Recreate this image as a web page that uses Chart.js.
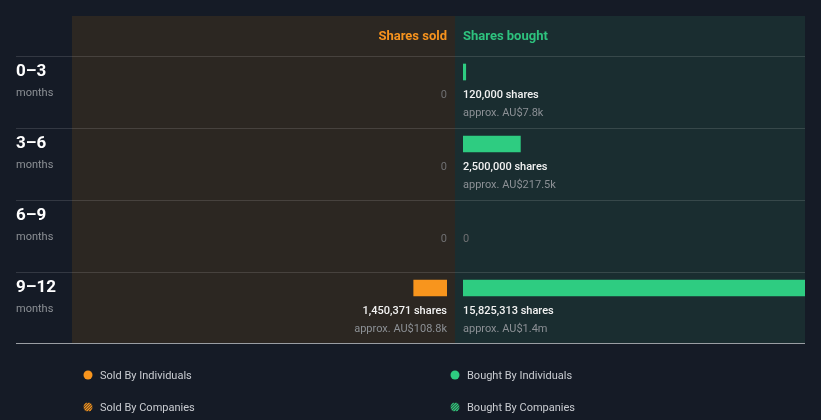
<!DOCTYPE html>
<html><head><meta charset="utf-8">
<script src="https://cdn.jsdelivr.net/npm/chart.js@4"></script>
<style>
html,body{margin:0;padding:0;background:#151b26;}
#wrap{position:relative;width:821px;height:420px;overflow:hidden;}
canvas{position:absolute;left:0;top:0;}
</style></head><body>
<div id="wrap"><canvas id="bought" width="821" height="420"></canvas><canvas id="sold" width="821" height="420"></canvas></div>
<script>
// ---- data ----
const periods = ['0–3', '3–6', '6–9', '9–12'];
const periodUnit = 'months';
const headerLabels = ['Shares sold', 'Shares bought'];
const sharesSold = [0, 0, 0, 1450371];
const sharesBought = [120000, 2500000, 0, 15825313];
const valueSold = [0, 0, 0, 108800];          // AU$
const valueBought = [7800, 217500, 0, 1400000]; // AU$
const currency = 'AU$';
const legendLabels = ['Sold By Individuals', 'Bought By Individuals', 'Sold By Companies', 'Bought By Companies'];
const boughtAxisMax = 14900000; // scale (largest bar is clipped at panel edge)

// ---- styles / layout ----
const C = {
  bg: '#151b26', soldPanel: '#2c2722', boughtPanel: '#1a2d30',
  orange: '#f8951d', green: '#2ecc81', headOrange: '#f7931e', headGreen: '#2ec27e',
  rowLine: 'rgba(255,255,255,0.13)', axisLine: '#9a9ea3',
  white: '#f2f2f2', grey: '#8c9095', zero: '#6f7072', legendText: '#c9ccd1'
};
const F = 'Roboto, "Noto Sans", sans-serif';
const L = { top: 16, head: 56, bottom: 343, left: 16, soldLeft: 72, mid: 455, right: 805, soldZero: 447, boughtZero: 463, rowH: 72 };

const fmtShares = v => v.toLocaleString('en-US') + ' shares';
const fmtValue = v => 'approx. ' + currency + (v >= 1e6 ? (v / 1e6).toFixed(1) + 'm' : (v / 1e3).toFixed(1) + 'k');

function drawHatch(ctx, x, y, r, col) {
  ctx.save();
  ctx.beginPath(); ctx.arc(x, y, r, 0, Math.PI * 2); ctx.clip();
  ctx.fillStyle = '#2a2a2a'; ctx.fillRect(x - r, y - r, 2 * r, 2 * r);
  ctx.strokeStyle = col; ctx.lineWidth = 1.3;
  for (let k = -3; k <= 3; k++) {
    ctx.beginPath();
    ctx.moveTo(x - r + k * 2.8, y + r);
    ctx.lineTo(x + r + k * 2.8, y - r);
    ctx.stroke();
  }
  ctx.restore();
}

const backdrop = {
  id: 'backdrop',
  beforeDraw(chart) {
    const ctx = chart.ctx;
    ctx.save();
    ctx.fillStyle = C.bg; ctx.fillRect(0, 0, chart.width, chart.height);
    ctx.fillStyle = C.soldPanel; ctx.fillRect(L.soldLeft, L.top, L.mid - L.soldLeft, L.bottom - L.top);
    ctx.fillStyle = C.boughtPanel; ctx.fillRect(L.mid, L.top, L.right - L.mid, L.bottom - L.top);
    ctx.font = 'bold 13px ' + F; ctx.textBaseline = 'alphabetic';
    ctx.fillStyle = C.headOrange; ctx.textAlign = 'right'; ctx.fillText(headerLabels[0], L.soldZero, 40);
    ctx.fillStyle = C.headGreen; ctx.textAlign = 'left'; ctx.fillText(headerLabels[1], L.boughtZero, 40);
    ctx.fillStyle = C.rowLine;
    periods.forEach((p, i) => ctx.fillRect(L.left, L.head + i * L.rowH, L.right - L.left, 1));
    ctx.fillStyle = C.axisLine; ctx.fillRect(L.left, L.bottom, L.right - L.left, 1);
    periods.forEach((p, i) => {
      const y0 = L.head + i * L.rowH;
      ctx.textAlign = 'left';
      ctx.fillStyle = '#ffffff'; ctx.font = 'bold 17px ' + F; ctx.fillText(p, L.left, y0 + 20);
      ctx.fillStyle = C.grey; ctx.font = '11px ' + F; ctx.fillText(periodUnit, L.left, y0 + 40);
    });
    const cols = [88, 455], rows = [376, 408], colors = [C.orange, C.green];
    ctx.font = '11px ' + F; ctx.textBaseline = 'middle'; ctx.textAlign = 'left';
    legendLabels.forEach((lab, i) => {
      const cx = cols[i % 2], cy = rows[Math.floor(i / 2)], col = colors[i % 2];
      if (i < 2) { ctx.fillStyle = col; ctx.beginPath(); ctx.arc(cx, cy - 1, 4.5, 0, Math.PI * 2); ctx.fill(); }
      else drawHatch(ctx, cx, cy - 1, 4.5, col);
      ctx.fillStyle = C.legendText; ctx.fillText(lab, cx + 12, cy);
    });
    ctx.restore();
  }
};

function valueLabels(values, align) {
  return {
    id: 'valueLabels',
    afterDatasetsDraw(chart) {
      const ctx = chart.ctx, meta = chart.getDatasetMeta(0), xs = chart.scales.x;
      const x0 = xs.getPixelForValue(0);
      ctx.save();
      ctx.textAlign = align; ctx.textBaseline = 'alphabetic';
      meta.data.forEach((bar, i) => {
        const v = chart.data.datasets[0].data[i];
        const y = bar.y;
        if (v > 0) {
          ctx.fillStyle = C.white; ctx.font = '500 11px ' + F; ctx.fillText(fmtShares(v), x0, y + 26);
          ctx.fillStyle = C.grey; ctx.font = '11px ' + F; ctx.fillText(fmtValue(values[i]), x0, y + 44);
        } else {
          ctx.fillStyle = C.zero; ctx.font = '11px ' + F; ctx.fillText('0', x0, y + 26);
        }
      });
      ctx.restore();
    }
  };
}

function makeChart(id, data, color, padding, xScale, plugins) {
  return new Chart(document.getElementById(id), {
    type: 'bar',
    data: { labels: periods, datasets: [{ data, backgroundColor: c => (c.raw > 0 ? color : 'rgba(0,0,0,0)'), borderWidth: 0, barThickness: 16 }] },
    options: {
      indexAxis: 'y', responsive: false, animation: false, devicePixelRatio: 1,
      layout: { padding },
      scales: { x: xScale, y: { type: 'category', display: false, grid: { display: false } } },
      plugins: { legend: { display: false }, tooltip: { enabled: false } }
    },
    plugins
  });
}

const pxPerShare = (L.right - L.boughtZero) / boughtAxisMax;

makeChart('bought', sharesBought, C.green,
  { left: L.boughtZero, right: 821 - L.right, top: 36, bottom: 96 },
  { type: 'linear', min: 0, max: boughtAxisMax, display: false },
  [backdrop, valueLabels(valueBought, 'left')]);

makeChart('sold', sharesSold, C.orange,
  { left: L.soldLeft, right: 821 - L.soldZero, top: 36, bottom: 96 },
  { type: 'linear', min: 0, max: (L.soldZero - L.soldLeft) / pxPerShare, reverse: true, display: false },
  [valueLabels(valueSold, 'right')]);
</script>
</body></html>
